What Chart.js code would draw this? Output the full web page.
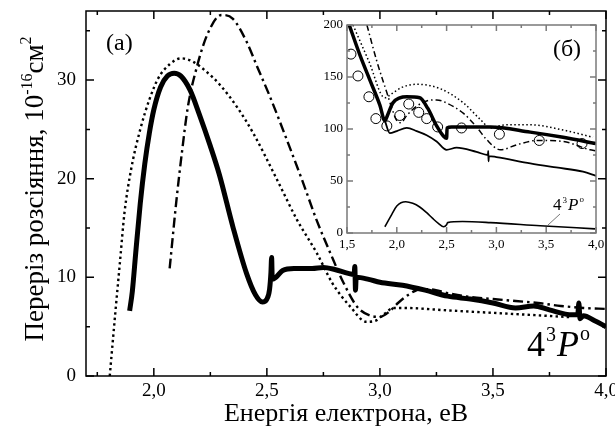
<!DOCTYPE html>
<html>
<head>
<meta charset="utf-8">
<script src="https://cdn.jsdelivr.net/npm/chart.js@4.4.0/dist/chart.umd.min.js"></script>
<style>
  html, body { margin: 0; padding: 0; background: #fff; }
  #wrap { position: relative; width: 615px; height: 428px; overflow: hidden; }
  #main { position: absolute; left: 0; top: 0; width: 615px; height: 428px; }
  #inset { position: absolute; left: 290px; top: 0; width: 325px; height: 260px; }
</style>
</head>
<body>
<div id="wrap">
  <div id="main"><canvas id="mainChart"></canvas></div>
  <div id="inset"><canvas id="insetChart"></canvas></div>
</div>
<script>
// ---- main panel (a) ----
const mSolidE = [1.893, 1.905, 1.92, 1.94, 1.96, 1.98, 2.00, 2.03, 2.06, 2.09, 2.12, 2.16, 2.20, 2.25, 2.29, 2.35, 2.41, 2.45, 2.48, 2.50, 2.512, 2.518, 2.521, 2.524, 2.54, 2.57, 2.62, 2.70, 2.75, 2.80, 2.86, 2.886, 2.889, 2.892, 2.895, 2.95, 3.00, 3.10, 3.20, 3.30, 3.40, 3.50, 3.60, 3.68, 3.75, 3.85, 3.875, 3.88, 3.885, 3.90, 3.95, 4.00];
const mSolidV = [6.6, 8.6, 12.5, 17.5, 21.5, 24.6, 27.0, 29.3, 30.4, 30.7, 30.4, 29.0, 26.6, 23.3, 20.4, 15.1, 10.4, 8.2, 7.5, 7.8, 8.8, 10.5, 12.0, 9.8, 10.0, 10.7, 10.9, 10.9, 11.0, 10.8, 10.4, 10.3, 11.1, 8.7, 10.0, 9.8, 9.5, 9.2, 8.7, 8.1, 7.8, 7.4, 6.9, 7.1, 6.7, 6.2, 6.2, 7.4, 5.8, 6.1, 5.6, 5.0];

const mDashE = [2.07, 2.10, 2.125, 2.15, 2.19, 2.24, 2.30, 2.35, 2.41, 2.46, 2.514, 2.589, 2.66, 2.72, 2.78, 2.84, 2.90, 2.96, 3.00, 3.04, 3.08, 3.13, 3.18, 3.22, 3.30, 3.40, 3.50, 3.60, 3.70, 3.80, 3.90, 4.00];
const mDashV = [10.9, 17.8, 22.8, 27.2, 31.3, 34.8, 36.6, 36.2, 33.9, 31.2, 28.3, 23.9, 19.6, 15.8, 12.5, 9.4, 7.0, 6.1, 6.0, 6.5, 7.4, 8.3, 8.8, 8.8, 8.4, 8.0, 7.8, 7.6, 7.4, 7.1, 6.9, 6.8];

const mDotE = [1.805, 1.83, 1.85, 1.87, 1.90, 1.94, 1.98, 2.02, 2.07, 2.12, 2.17, 2.23, 2.293, 2.37, 2.44, 2.545, 2.634, 2.72, 2.79, 2.87, 2.94, 2.98, 3.02, 3.06, 3.10, 3.30, 3.50, 3.70, 3.85];
const mDotV = [0, 6.5, 11.5, 16.5, 21, 25, 28, 30.2, 31.6, 32.2, 31.9, 30.9, 29.5, 27.2, 24.6, 19.9, 15.8, 12.5, 9.4, 7.0, 5.5, 5.6, 6.3, 6.9, 6.9, 6.65, 6.4, 6.15, 5.95];

const mXMajor = [2.0, 2.5, 3.0, 3.5, 4.0];
const mXMinor = [1.75, 2.25, 2.75, 3.25, 3.75];
const mYMajor = [0, 10, 20, 30];
const mYMinor = [5, 15, 25, 35];

// ---- inset panel (б) ----
const iSolidE = [1.515, 1.63, 1.73, 1.83, 1.88, 1.91, 1.96, 2.03, 2.10, 2.23, 2.31, 2.40, 2.47, 2.50, 2.505, 2.55, 2.60, 2.94, 3.34, 3.67, 4.00];
const iSolidV = [202, 171, 147, 123, 108, 114, 125, 130, 131, 130, 120, 103, 93, 91, 101, 102, 102, 102, 97, 92, 86];

const iThinE = [1.88, 1.93, 2.00, 2.10, 2.20, 2.30, 2.40, 2.50, 2.60, 2.80, 2.915, 2.918, 2.921, 2.924, 3.00, 3.34, 3.60, 3.87, 4.00];
const iThinV = [108, 96, 98, 101, 98, 94, 88, 80, 82, 78, 75, 79, 69, 74, 73, 67, 63, 59, 55];

const iDotE = [1.56, 1.72, 1.88, 1.95, 2.05, 2.20, 2.43, 2.67, 2.84, 2.94, 3.02, 3.11, 3.34, 3.67, 3.97];
const iDotV = [200, 165, 130, 134, 140, 143, 139, 125, 109, 101, 103, 104, 104, 99, 92];

const iDashE = [1.70, 1.80, 1.90, 1.95, 2.00, 2.04, 2.10, 2.20, 2.30, 2.40, 2.50, 2.67, 2.80, 2.90, 3.04, 3.21, 3.41, 3.67, 3.94, 4.00];
const iDashV = [200, 165, 135, 120, 108, 106, 113, 122, 127, 128, 125, 115, 102, 90, 80, 85, 89, 88, 80, 79];

const iCircE = [1.54, 1.61, 1.72, 1.79, 1.90, 2.03, 2.12, 2.22, 2.30, 2.41, 2.65, 3.03, 3.43, 3.86];
const iCircV = [172, 151, 131, 110, 103, 113, 124, 116, 110, 102, 101, 95, 89, 86];

const iLowE = [1.88, 1.95, 2.00, 2.09, 2.16, 2.23, 2.30, 2.36, 2.42, 2.47, 2.50, 2.51, 2.66, 2.94, 3.44, 3.99];
const iLowV = [6, 18, 26, 30, 28.5, 25, 19.5, 14, 9, 6, 8, 10, 11, 10, 7, 4];

const iXMajor = [1.5, 2.0, 2.5, 3.0, 3.5, 4.0];
const iXMinor = [1.75, 2.25, 2.75, 3.25, 3.75];
const iYMajor = [0, 50, 100, 150, 200];
const iYMinor = [25, 75, 125, 175];

const SERIF = '"Liberation Serif", "Times New Roman", serif';

const pts = (E, V) => E.map((e, i) => ({ x: e, y: V[i] }));
const comma = v => v.toFixed(1).replace('.', ',');

function line(E, V, width, dash) {
    return {
        data: pts(E, V),
        borderColor: '#000',
        borderWidth: width,
        borderDash: dash || [],
        pointRadius: 0,
        fill: false,
        cubicInterpolationMode: 'monotone',
    };
}

// frame with inward ticks on all four sides + tick labels
function drawFrame(chart, o) {
    const { ctx, chartArea: a, scales: { x, y } } = chart;
    ctx.save();
    ctx.strokeStyle = o.color;
    ctx.lineWidth = o.lw;
    ctx.strokeRect(a.left, a.top, a.right - a.left, a.bottom - a.top);
    ctx.beginPath();
    const xt = (vals, len) => vals.forEach(v => {
        const p = x.getPixelForValue(v);
        ctx.moveTo(p, a.bottom); ctx.lineTo(p, a.bottom - len);
        ctx.moveTo(p, a.top); ctx.lineTo(p, a.top + len);
    });
    const yt = (vals, len) => vals.forEach(v => {
        const p = y.getPixelForValue(v);
        ctx.moveTo(a.left, p); ctx.lineTo(a.left + len, p);
        ctx.moveTo(a.right, p); ctx.lineTo(a.right - len, p);
    });
    xt(o.xMajor, o.major); xt(o.xMinor, o.minor);
    yt(o.yMajor, o.major); yt(o.yMinor, o.minor);
    ctx.stroke();

    ctx.fillStyle = '#000';
    ctx.font = o.font;
    ctx.textAlign = 'center';
    ctx.textBaseline = 'middle';
    o.xMajor.forEach(v => ctx.fillText(comma(v), x.getPixelForValue(v), a.bottom + o.xPad));
    ctx.textAlign = 'right';
    o.yMajor.forEach(v => ctx.fillText(String(v), a.left - o.yPad, y.getPixelForValue(v)));
    ctx.restore();
}

// "4" + sup "3" + italic "P" + sup "o"
function drawTerm(ctx, x, y, size) {
    const small = Math.round(size * 0.55);
    ctx.textAlign = 'left';
    ctx.textBaseline = 'alphabetic';
    ctx.font = size + 'px ' + SERIF;
    ctx.fillText('4', x, y);
    x += ctx.measureText('4').width + 1;
    ctx.font = small + 'px ' + SERIF;
    ctx.fillText('3', x, y - size * 0.42);
    x += ctx.measureText('3').width + 1;
    ctx.font = 'italic ' + size + 'px ' + SERIF;
    ctx.fillText('P', x, y);
    x += ctx.measureText('P').width + 1;
    ctx.font = small + 'px ' + SERIF;
    ctx.fillText('o', x, y - size * 0.45);
}

const mainDecor = {
    id: 'mainDecor',
    afterDraw(chart) {
        drawFrame(chart, {
            color: '#000', lw: 1.5, major: 8, minor: 4,
            xMajor: mXMajor, xMinor: mXMinor, yMajor: mYMajor, yMinor: mYMinor,
            font: '19px ' + SERIF, xPad: 15, yPad: 10,
        });
        const ctx = chart.ctx;
        const a = chart.chartArea;
        ctx.save();
        ctx.fillStyle = '#000';
        ctx.font = '24px ' + SERIF;
        ctx.textAlign = 'left';
        ctx.textBaseline = 'middle';
        ctx.fillText('(a)', 106, 44);

        drawTerm(ctx, 527, 356, 36);

        // x title
        ctx.font = '26px ' + SERIF;
        ctx.textAlign = 'center';
        ctx.textBaseline = 'alphabetic';
        ctx.fillText('Енергія електрона, еВ', (a.left + a.right) / 2, 421);

        // y title (rotated, with superscripts)
        const big = '27px ' + SERIF, sm = '16px ' + SERIF;
        const parts = [['Переріз розсіяння, 10', big, 0], ['-16', sm, -11], ['см', big, 0], ['2', sm, -12]];
        let total = 0;
        parts.forEach(p => { ctx.font = p[1]; total += ctx.measureText(p[0]).width; });
        ctx.translate(43, 189);
        ctx.rotate(-Math.PI / 2);
        let cx = -total / 2;
        ctx.textAlign = 'left';
        parts.forEach(p => {
            ctx.font = p[1];
            ctx.fillText(p[0], cx, p[2]);
            cx += ctx.measureText(p[0]).width;
        });
        ctx.restore();
    }
};

const insetDecor = {
    id: 'insetDecor',
    beforeDraw(chart) {
        const { ctx, chartArea: a } = chart;
        ctx.save();
        ctx.fillStyle = '#fff';
        ctx.fillRect(a.left, a.top, a.right - a.left, a.bottom - a.top);
        ctx.restore();
    },
    afterDraw(chart) {
        drawFrame(chart, {
            color: '#7a7a7a', lw: 1.5, major: 6, minor: 3,
            xMajor: iXMajor, xMinor: iXMinor, yMajor: iYMajor, yMinor: iYMinor,
            font: '13px ' + SERIF, xPad: 12, yPad: 4,
        });
        const ctx = chart.ctx;
        ctx.save();
        ctx.fillStyle = '#000';
        ctx.font = '24px ' + SERIF;
        ctx.textAlign = 'center';
        ctx.textBaseline = 'middle';
        ctx.fillText('(б)', 277, 50);

        drawTerm(ctx, 263, 210, 17);
        ctx.strokeStyle = '#555';
        ctx.lineWidth = 0.8;
        ctx.beginPath();
        ctx.moveTo(270, 214);
        ctx.lineTo(258, 225);
        ctx.stroke();
        ctx.restore();
    }
};

const hiddenScales = (xmin, xmax, ymin, ymax) => ({
    x: { type: 'linear', min: xmin, max: xmax, display: false },
    y: { type: 'linear', min: ymin, max: ymax, display: false },
});

new Chart(document.getElementById('mainChart'), {
    type: 'line',
    data: {
        datasets: [
            line(mDotE, mDotV, 2.4, [2.4, 3.2]),
            line(mDashE, mDashV, 2.4, [10, 4, 2.5, 4]),
            line(mSolidE, mSolidV, 5),
        ]
    },
    options: {
        responsive: true,
        maintainAspectRatio: false,
        animation: false,
        devicePixelRatio: 1,
        layout: { padding: { left: 86, right: 9, top: 11, bottom: 52 } },
        scales: hiddenScales(1.7, 4.0, 0, 37),
        plugins: { legend: { display: false }, tooltip: { enabled: false } },
    },
    plugins: [mainDecor],
});

new Chart(document.getElementById('insetChart'), {
    type: 'line',
    data: {
        datasets: [
            line(iDotE, iDotV, 1.5, [1.5, 2.5]),
            line(iDashE, iDashV, 1.5, [6, 3, 1.5, 3]),
            line(iThinE, iThinV, 1.8),
            line(iLowE, iLowV, 1.6),
            line(iSolidE, iSolidV, 3.5),
            {
                data: pts(iCircE, iCircV),
                showLine: false,
                pointStyle: 'circle',
                pointRadius: 5,
                pointBorderWidth: 1,
                pointBorderColor: '#000',
                pointBackgroundColor: 'rgba(0,0,0,0)',
            },
        ]
    },
    options: {
        responsive: true,
        maintainAspectRatio: false,
        animation: false,
        devicePixelRatio: 1,
        layout: { padding: { left: 57, right: 19, top: 25, bottom: 27 } },
        scales: hiddenScales(1.5, 4.0, 0, 200),
        plugins: { legend: { display: false }, tooltip: { enabled: false } },
    },
    plugins: [insetDecor],
});
</script>
</body>
</html>
